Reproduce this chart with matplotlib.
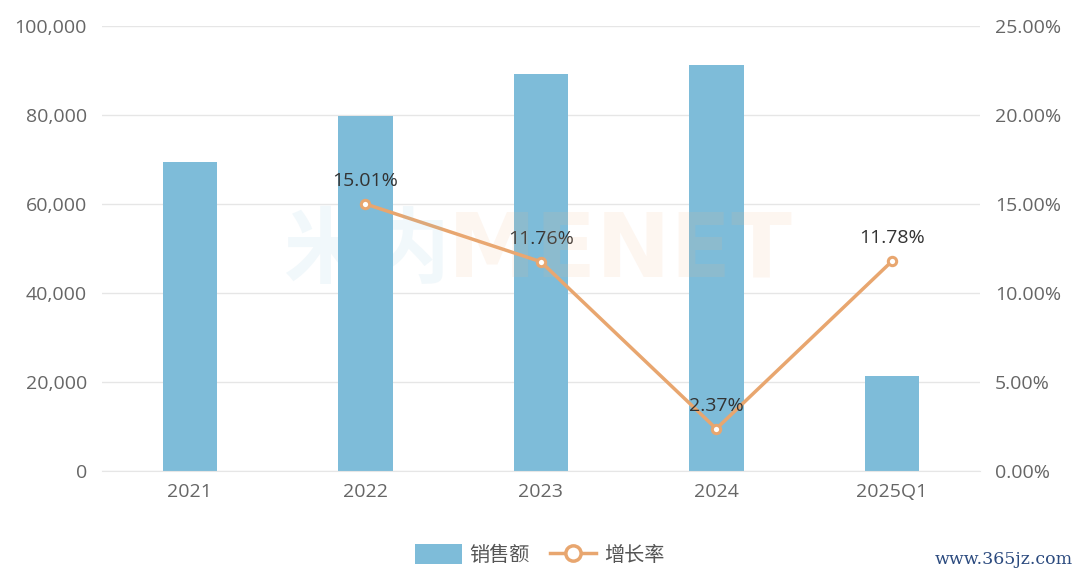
import matplotlib
matplotlib.use("Agg")
import matplotlib.pyplot as plt
from matplotlib.lines import Line2D
from matplotlib.patches import FancyBboxPatch
import numpy as np

plt.rcParams['font.family'] = ['Open Sans', 'Noto Sans CJK SC', 'DejaVu Sans']

categories = ["2021", "2022", "2023", "2024", "2025Q1"]
sales = [69400, 79800, 89200, 91300, 21300]
growth = [None, 15.01, 11.76, 2.37, 11.78]
left_ticks = [0, 20000, 40000, 60000, 80000, 100000]
right_ticks = [0, 5, 10, 15, 20, 25]

bar_color = "#7EBCD9"
line_color = "#E8A66F"
text_color = "#666666"
grid_color = "#E6E6E6"

fig = plt.figure(figsize=(10.8, 5.8), dpi=100)
ax = fig.add_axes([0.0945, 0.188, 0.8125, 0.767])
ax2 = ax.twinx()

x = np.arange(len(categories))
ax.bar(x, sales, width=0.31, color=bar_color, zorder=2)
ax.set_xlim(-0.5, len(categories) - 0.5)
ax.set_ylim(0, 100000)
ax.set_yticks(left_ticks)
ax.set_yticklabels([f"{v:,}" for v in left_ticks])
ax.set_xticks(x)
ax.set_xticklabels(categories)
ax.grid(axis='y', color=grid_color, linewidth=1, zorder=0)
ax.set_axisbelow(True)
for s in ["top", "right", "left"]:
    ax.spines[s].set_visible(False)
ax.spines["bottom"].set_color(grid_color)
ax.tick_params(axis='both', length=0, colors=text_color, labelsize=14)
ax.tick_params(axis='x', pad=9)
ax.tick_params(axis='y', pad=11)

gx = [i for i, g in enumerate(growth) if g is not None]
gy = [g for g in growth if g is not None]
ax2.plot(gx, gy, color=line_color, linewidth=2.5, marker='o', markersize=6,
         markerfacecolor='white', markeredgecolor=line_color, markeredgewidth=2.2, zorder=3)
ax2.set_ylim(0, 25)
ax2.set_yticks(right_ticks)
ax2.set_yticklabels([f"{v:.2f}%" for v in right_ticks])
for s in ["top", "right", "left", "bottom"]:
    ax2.spines[s].set_visible(False)
ax2.tick_params(axis='y', length=0, colors=text_color, labelsize=14, pad=11)
for xi, yi in zip(gx, gy):
    ax2.annotate(f"{yi:.2f}%", (xi, yi), xytext=(0, 10), textcoords='offset points',
                 ha='center', va='bottom', fontsize=14, color="#333333", zorder=4)

# watermark
fig.text(0.262, 0.565, "米内", fontsize=60, color="#7EBCD9", alpha=0.10,
         ha='left', va='center', fontweight='bold', family='Noto Sans CJK SC')
fig.text(0.415, 0.565, "MENET", fontsize=64, color="#F5B585", alpha=0.12,
         ha='left', va='center', fontweight='bold', family='DejaVu Sans')

# legend
handles = [
    FancyBboxPatch((0, 0), 1, 1, boxstyle="round,pad=0.1", facecolor=bar_color, edgecolor='none'),
    Line2D([0], [0], color=line_color, linewidth=2.5, marker='o', markersize=11,
           markerfacecolor='white', markeredgecolor=line_color, markeredgewidth=2.5),
]
fig.legend(handles, ["销售额", "增长率"], loc='center', bbox_to_anchor=(0.5, 0.043),
           ncol=2, frameon=False, labelcolor="#555555",
           handlelength=2.3, handleheight=1.1, columnspacing=1.0, handletextpad=0.4,
           prop={'family': 'Noto Sans CJK SC', 'size': 14.5})

fig.text(0.993, 0.02, "www.365jz.com", fontsize=12.5, color="#2B4A7E", ha='right',
         va='bottom', family='DejaVu Serif')

fig.savefig("out.png", dpi=100)
